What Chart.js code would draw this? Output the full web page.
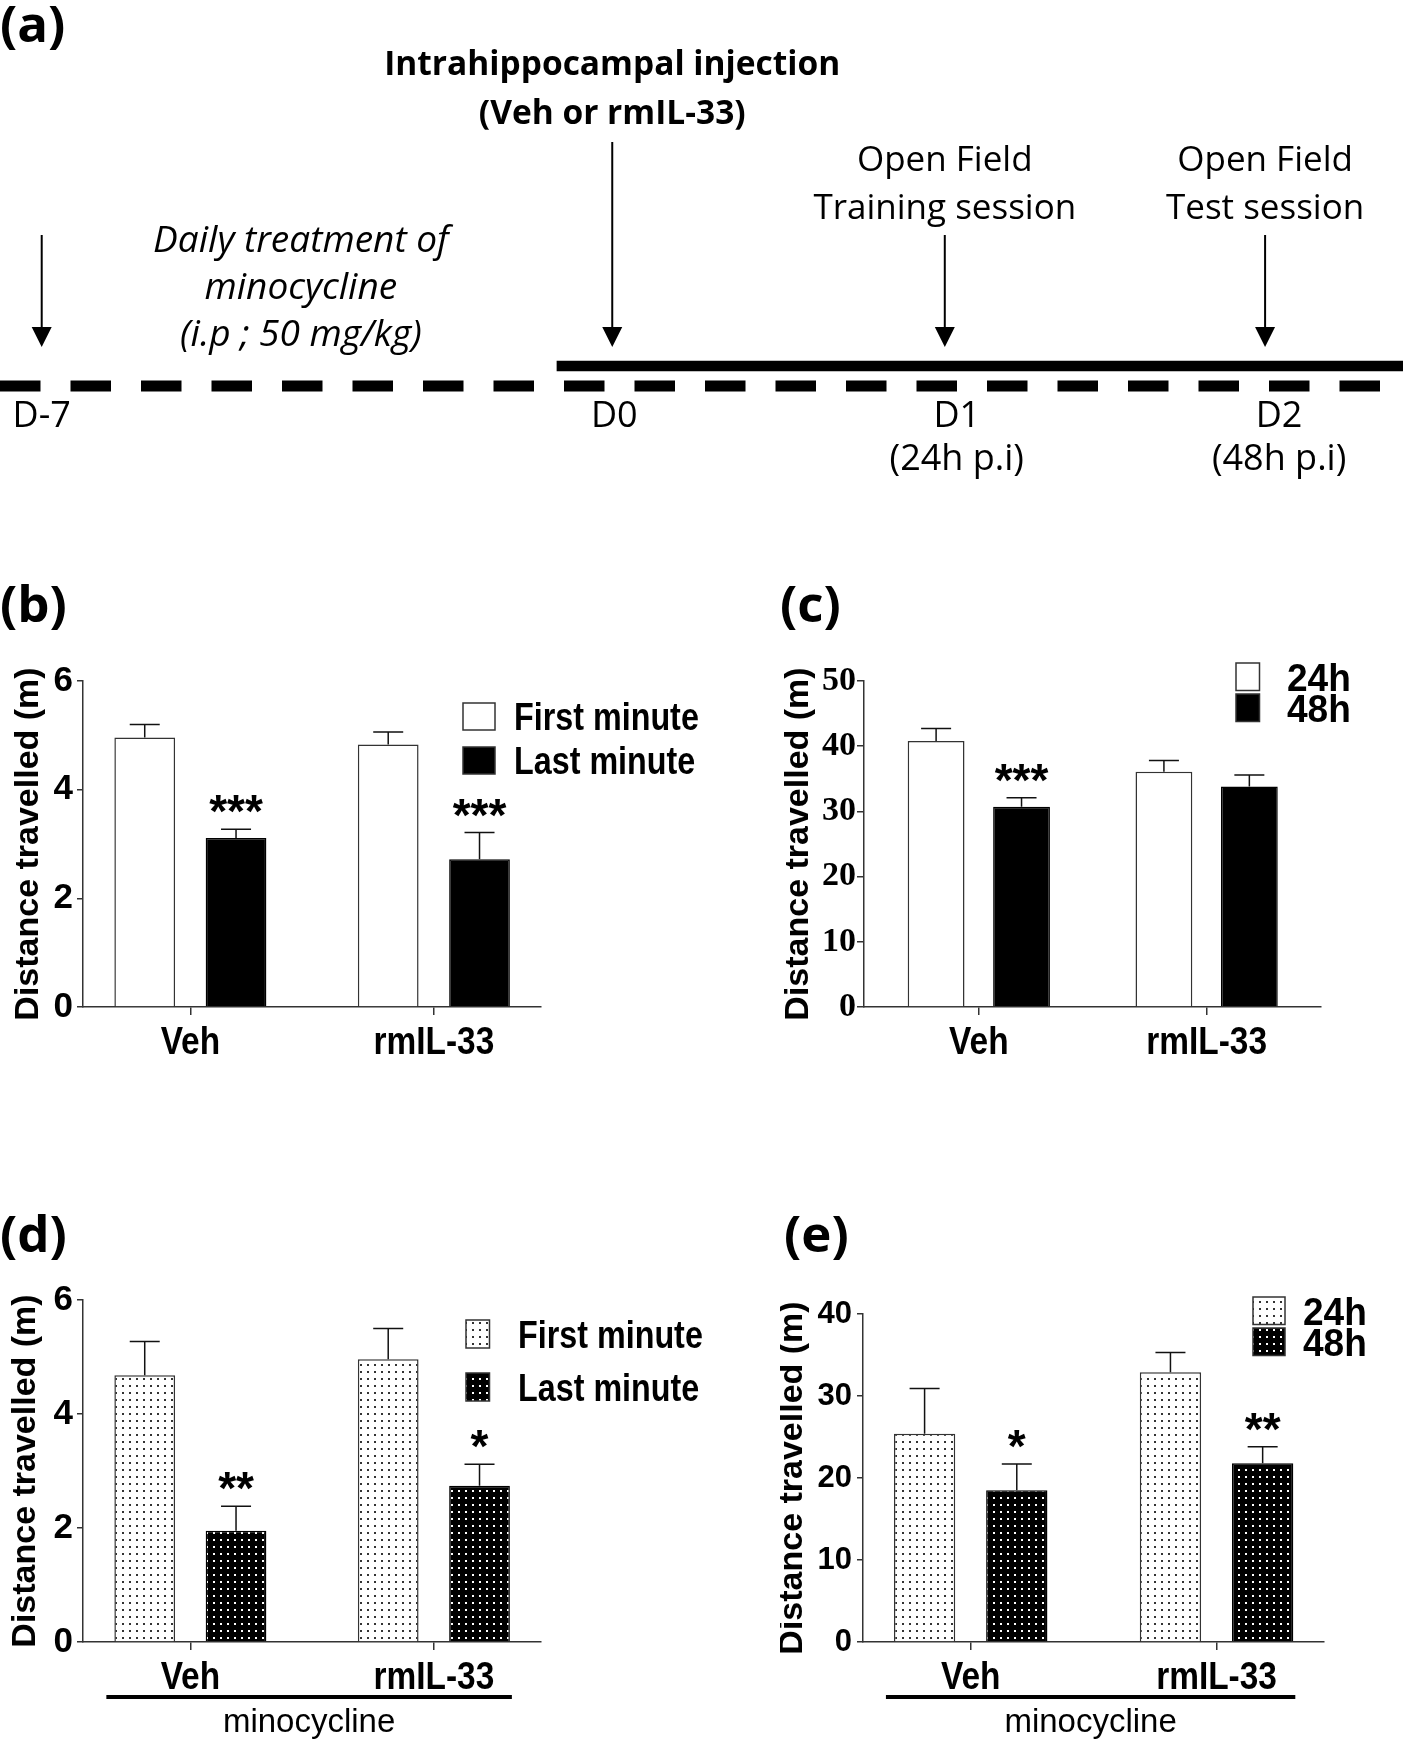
<!DOCTYPE html>
<html>
<head>
<meta charset="utf-8">
<title>Open field - minocycline / rmIL-33</title>
<script src="https://cdn.jsdelivr.net/npm/chart.js@4.4.1/dist/chart.umd.min.js"></script>
<style>
  body { margin: 0; background: #fff; }
  #figure { position: relative; width: 1403px; height: 1741px; overflow: hidden; }
  #figure canvas { position: absolute; }
</style>
</head>
<body>
<div id="figure">
  <canvas id="timeline" width="1403" height="570" style="left:0;top:0"></canvas>
  <canvas id="chartB" width="780" height="510" style="left:0;top:570px"></canvas>
  <canvas id="chartC" width="623" height="510" style="left:780px;top:570px"></canvas>
  <canvas id="chartD" width="780" height="541" style="left:0;top:1200px"></canvas>
  <canvas id="chartE" width="623" height="541" style="left:780px;top:1200px"></canvas>
</div>
<script>
// ====================== Data ======================
const GROUPS = ["Veh", "rmIL-33"];

// (a) protocol timeline (schematic, not to scale)
const TIMELINE_DAYS = ["D-7", "D0", "D1", "D2"];
const TIMELINE_POS = [0, 5.13, 8.12, 11];
const TIMELINE_SUB = ["", "", "(24h p.i)", "(48h p.i)"];
const TIMELINE_EVENTS = [
  [],
  ["Intrahippocampal injection", "(Veh or rmIL-33)"],
  ["Open Field", "Training session"],
  ["Open Field", "Test session"]
];
const TREATMENT_NOTE = ["Daily treatment of", "minocycline", "(i.p ; 50 mg/kg)"];
const TREATMENT_NOTE_POS = 2.33;
const TREATMENT_SPAN = [-0.375, 12.05];      // dashed: daily minocycline
const POST_INJECTION_SPAN = [4.63, 12.24];   // solid: after injection

// (b) first vs last minute
const B_SERIES = ["First minute", "Last minute"];
const B_FIRST = [4.96, 4.83];
const B_FIRST_SEM = [0.24, 0.23];
const B_LAST = [3.11, 2.72];
const B_LAST_SEM = [0.16, 0.49];
const B_LAST_STARS = ["***", "***"];
const B_Y_TICKS = [0, 2, 4, 6];

// (c) 24h vs 48h
const C_SERIES = ["24h", "48h"];
const C_24H = [40.8, 36.1];
const C_24H_SEM = [1.9, 1.7];
const C_48H = [30.7, 33.8];
const C_48H_SEM = [1.4, 1.8];
const C_48H_STARS = ["***", ""];
const C_Y_TICKS = [0, 10, 20, 30, 40, 50];

// (d) first vs last minute, minocycline
const D_SERIES = ["First minute", "Last minute"];
const D_FIRST = [4.68, 4.96];
const D_FIRST_SEM = [0.59, 0.54];
const D_LAST = [1.95, 2.74];
const D_LAST_SEM = [0.43, 0.38];
const D_LAST_STARS = ["**", "*"];
const D_Y_TICKS = [0, 2, 4, 6];

// (e) 24h vs 48h, minocycline
const E_SERIES = ["24h", "48h"];
const E_24H = [25.4, 32.9];
const E_24H_SEM = [5.5, 2.4];
const E_48H = [18.5, 21.8];
const E_48H_SEM = [3.2, 2.0];
const E_48H_STARS = ["*", "**"];
const E_Y_TICKS = [0, 10, 20, 30, 40];

// ====================== Styles ======================
const AXIS = "#333";
const SANS = "'Liberation Sans', Arial, sans-serif";
const SERIF = "'Liberation Serif', 'Times New Roman', serif";
const OPEN = "'Open Sans', sans-serif";

function dotPattern(canvasId, bg, dot) {
  const tile = document.createElement("canvas");
  tile.width = 7; tile.height = 7;
  const g = tile.getContext("2d");
  g.fillStyle = bg; g.fillRect(0, 0, 7, 7);
  g.fillStyle = dot; g.fillRect(3, 3, 2, 2);
  return document.getElementById(canvasId).getContext("2d").createPattern(tile, "repeat");
}

// condensed text, like the Arial Narrow used in the original graphs
function drawNarrow(ctx, text, x, y, font, sx, align) {
  ctx.save();
  ctx.font = font;
  ctx.textAlign = align;
  ctx.textBaseline = "alphabetic";
  ctx.translate(x, y);
  ctx.scale(sx, 1);
  ctx.fillText(text, 0, 0);
  ctx.restore();
}

// ====================== Plugins ======================
const panelLetter = {
  id: "panelLetter",
  afterDraw(chart, args, opts) {
    if (!opts || !opts.text) return;
    const ctx = chart.ctx;
    ctx.save();
    ctx.fillStyle = "#000";
    ctx.font = "bold 51px " + OPEN;
    ctx.textAlign = "left";
    ctx.textBaseline = "alphabetic";
    ctx.fillText(opts.text, opts.x, opts.y);
    ctx.restore();
  }
};

const groupLabels = {
  id: "groupLabels",
  afterDraw(chart) {
    const ctx = chart.ctx;
    const xs = chart.scales.x;
    ctx.save();
    ctx.fillStyle = "#000";
    xs.ticks.forEach(t => {
      drawNarrow(ctx, GROUPS[t.value], xs.getPixelForValue(t.value), xs.top + 47, "bold 38px " + SANS, 0.88, "center");
    });
    ctx.restore();
  }
};

const errorBars = {
  id: "errorBars",
  afterDatasetsDraw(chart) {
    const ctx = chart.ctx;
    const yScale = chart.scales.y;
    ctx.save();
    chart.data.datasets.forEach((ds, di) => {
      chart.getDatasetMeta(di).data.forEach((bar, i) => {
        const top = yScale.getPixelForValue(ds.data[i].y + ds.sem[i]);
        ctx.strokeStyle = "#111";
        ctx.lineWidth = 1.5;
        ctx.beginPath();
        ctx.moveTo(bar.x, bar.y);
        ctx.lineTo(bar.x, top);
        ctx.moveTo(bar.x - 15, top);
        ctx.lineTo(bar.x + 15, top);
        ctx.stroke();
        const star = ds.stars ? ds.stars[i] : "";
        if (star) {
          ctx.fillStyle = "#000";
          ctx.font = "bold 46px " + SANS;
          ctx.textAlign = "center";
          ctx.textBaseline = "alphabetic";
          ctx.fillText(star, bar.x, top - 2);
        }
      });
    });
    ctx.restore();
  }
};

const boxLegend = {
  id: "boxLegend",
  afterDraw(chart, args, opts) {
    if (!opts || opts.x === undefined) return;
    const ctx = chart.ctx;
    ctx.save();
    chart.data.datasets.forEach((ds, k) => {
      const top = opts.y[k];
      ctx.fillStyle = ds.backgroundColor;
      ctx.fillRect(opts.x, top, opts.w, opts.h);
      ctx.strokeStyle = AXIS;
      ctx.lineWidth = 1.5;
      ctx.strokeRect(opts.x, top, opts.w, opts.h);
      ctx.fillStyle = "#000";
      drawNarrow(ctx, ds.label, opts.textX, top + opts.h / 2 + opts.size * 0.36,
        "bold " + opts.size + "px " + SANS, opts.sx, "left");
    });
    ctx.restore();
  }
};

const bracketNote = {
  id: "bracketNote",
  afterDraw(chart, args, opts) {
    if (!opts || !opts.text) return;
    const ctx = chart.ctx;
    const n = chart.data.datasets.length;
    const first = chart.getDatasetMeta(0).data[0];
    const last = chart.getDatasetMeta(n - 1).data[GROUPS.length - 1];
    const left = first.x - first.width / 2 - 8;
    const right = last.x + last.width / 2 + 2;
    const base = chart.chartArea.bottom;
    ctx.save();
    ctx.fillStyle = "#000";
    ctx.fillRect(left, base + 53, right - left, 4);
    ctx.font = "33px " + SANS;
    ctx.textAlign = "center";
    ctx.textBaseline = "alphabetic";
    ctx.fillText(opts.text, (left + right) / 2, base + 90);
    ctx.restore();
  }
};

const timelineNotes = {
  id: "timelineNotes",
  afterDatasetsDraw(chart) {
    const { ctx, scales: { x, y } } = chart;
    const tipY = y.getPixelForValue(1) - 19;
    const arrowTop = [235, 142, 235, 235];
    const dayShift = [0, 2, 12, 14];
    ctx.save();
    ctx.fillStyle = "#000";
    ctx.strokeStyle = "#000";
    ctx.textAlign = "center";
    ctx.textBaseline = "alphabetic";
    TIMELINE_POS.forEach((pos, i) => {
      const px = x.getPixelForValue(pos);
      ctx.lineWidth = 2;
      ctx.beginPath();
      ctx.moveTo(px, arrowTop[i]);
      ctx.lineTo(px, tipY - 18);
      ctx.stroke();
      ctx.beginPath();
      ctx.moveTo(px - 10, tipY - 20);
      ctx.lineTo(px + 10, tipY - 20);
      ctx.lineTo(px, tipY);
      ctx.closePath();
      ctx.fill();

      const lines = TIMELINE_EVENTS[i];
      const bold = i === 1;
      const gap = bold ? 49 : 48;
      const last = arrowTop[i] - (bold ? 18 : 16);
      ctx.font = bold ? "bold 33.5px " + OPEN : "35px " + OPEN;
      lines.forEach((t, k) => {
        ctx.fillText(t, px, last - (lines.length - 1 - k) * gap);
      });

      ctx.font = "36px " + OPEN;
      ctx.fillText(TIMELINE_DAYS[i], px + dayShift[i], 427);
      if (TIMELINE_SUB[i]) ctx.fillText(TIMELINE_SUB[i], px + dayShift[i], 470);
    });

    const nx = x.getPixelForValue(TREATMENT_NOTE_POS);
    ctx.font = "italic 37px " + OPEN;
    TREATMENT_NOTE.forEach((t, k) => ctx.fillText(t, nx, 252 + k * 47));
    ctx.restore();
  }
};

// ====================== (a) Timeline ======================
new Chart(document.getElementById("timeline"), {
  type: "line",
  data: {
    datasets: [
      {
        data: TREATMENT_SPAN.map(v => ({ x: v, y: 0 })),
        borderColor: "#000", borderWidth: 11, borderDash: [40.5, 30],
        pointRadius: 0
      },
      {
        data: POST_INJECTION_SPAN.map(v => ({ x: v, y: 1 })),
        borderColor: "#000", borderWidth: 10.5,
        pointRadius: 0
      }
    ]
  },
  options: {
    responsive: false, animation: false, devicePixelRatio: 1,
    layout: { padding: 0 },
    plugins: {
      legend: { display: false }, tooltip: { enabled: false },
      panelLetter: { text: "(a)", x: 0, y: 42 }
    },
    scales: {
      x: { type: "linear", min: -0.375, max: 12.24, display: false },
      y: { type: "linear", min: -9.2, max: 19.3, display: false }
    }
  },
  plugins: [timelineNotes, panelLetter]
});

// ====================== Bar panels ======================
function barPanel(id, cfg) {
  const canvas = document.getElementById(id);
  return new Chart(canvas, {
    type: "bar",
    data: {
      datasets: cfg.series.map(s => ({
        label: s.label,
        data: s.values.map((v, i) => ({ x: i, y: v })),
        sem: s.sem,
        stars: s.stars,
        backgroundColor: s.fill,
        borderColor: s.border,
        borderWidth: 1.5,
        categoryPercentage: 0.75,
        barPercentage: 0.665
      }))
    },
    options: {
      responsive: false, animation: false, devicePixelRatio: 1,
      layout: {
        padding: {
          top: cfg.area.top, left: 0,
          right: canvas.width - cfg.area.right,
          bottom: canvas.height - cfg.area.bottom - 60
        }
      },
      plugins: {
        legend: { display: false }, tooltip: { enabled: false },
        panelLetter: cfg.letter,
        boxLegend: cfg.legend,
        bracketNote: cfg.bracket || {}
      },
      scales: {
        x: {
          type: "linear", offset: false, min: cfg.xMin, max: cfg.xMax,
          afterBuildTicks: s => { s.ticks = GROUPS.map((_, i) => ({ value: i })); },
          afterFit: s => { s.height = 60; },
          grid: { display: true, offset: false, drawOnChartArea: false, drawTicks: true, tickLength: 8, color: AXIS, lineWidth: 1.5 },
          border: { display: true, color: AXIS, width: 1.5 },
          ticks: { display: false }
        },
        y: {
          min: 0, max: cfg.yTicks[cfg.yTicks.length - 1],
          afterBuildTicks: s => { s.ticks = cfg.yTicks.map(v => ({ value: v })); },
          afterFit: s => { s.width = cfg.area.left; },
          title: {
            display: true, text: "Distance travelled (m)", color: "#000",
            font: { family: SANS, weight: "bold", size: 34 },
            padding: { top: cfg.titlePad, bottom: 0 }
          },
          grid: { drawOnChartArea: false, drawTicks: true, tickLength: cfg.yTickLen, color: AXIS, lineWidth: 1.5 },
          border: { display: true, color: AXIS, width: 1.5 },
          ticks: { font: cfg.tickFont, color: "#000", padding: cfg.yTickPad }
        }
      }
    },
    plugins: [errorBars, boxLegend, bracketNote, groupLabels, panelLetter]
  });
}

// (b)
barPanel("chartB", {
  series: [
    { label: B_SERIES[0], values: B_FIRST, sem: B_FIRST_SEM, stars: null, fill: "#fff", border: AXIS },
    { label: B_SERIES[1], values: B_LAST, sem: B_LAST_SEM, stars: B_LAST_STARS, fill: "#000", border: "#000" }
  ],
  area: { left: 83, right: 541, top: 111, bottom: 437 },
  xMin: -0.441, xMax: 1.44, yTicks: B_Y_TICKS,
  titlePad: 8, yTickLen: 6, yTickPad: 4,
  tickFont: { family: SANS, weight: "bold", size: 35 },
  letter: { text: "(b)", x: 0, y: 52 },
  legend: { x: 463, y: [133, 177], w: 32, h: 27, textX: 514, size: 38, sx: 0.85 }
});

// (c)
barPanel("chartC", {
  series: [
    { label: C_SERIES[0], values: C_24H, sem: C_24H_SEM, stars: null, fill: "#fff", border: AXIS },
    { label: C_SERIES[1], values: C_48H, sem: C_48H_SEM, stars: C_48H_STARS, fill: "#000", border: "#000" }
  ],
  area: { left: 84, right: 541, top: 111, bottom: 437 },
  xMin: -0.504, xMax: 1.502, yTicks: C_Y_TICKS,
  titlePad: -2, yTickLen: 7, yTickPad: 1,
  tickFont: { family: SERIF, weight: "bold", size: 34 },
  letter: { text: "(c)", x: 0, y: 52 },
  legend: { x: 456, y: [93, 124], w: 23.5, h: 27.5, textX: 507, size: 39, sx: 0.95 }
});

// (d)
barPanel("chartD", {
  series: [
    { label: D_SERIES[0], values: D_FIRST, sem: D_FIRST_SEM, stars: null, fill: dotPattern("chartD", "#fff", "#333"), border: AXIS },
    { label: D_SERIES[1], values: D_LAST, sem: D_LAST_SEM, stars: D_LAST_STARS, fill: dotPattern("chartD", "#000", "#fff"), border: "#000" }
  ],
  area: { left: 83, right: 541, top: 100, bottom: 442 },
  xMin: -0.441, xMax: 1.44, yTicks: D_Y_TICKS,
  titlePad: 5, yTickLen: 6, yTickPad: 4,
  tickFont: { family: SANS, weight: "bold", size: 35 },
  letter: { text: "(d)", x: 0, y: 52 },
  legend: { x: 466, y: [120, 173], w: 23.5, h: 28, textX: 518, size: 38, sx: 0.85 },
  bracket: { text: "minocycline" }
});

// (e)
barPanel("chartE", {
  series: [
    { label: E_SERIES[0], values: E_24H, sem: E_24H_SEM, stars: null, fill: dotPattern("chartE", "#fff", "#333"), border: AXIS },
    { label: E_SERIES[1], values: E_48H, sem: E_48H_SEM, stars: E_48H_STARS, fill: dotPattern("chartE", "#000", "#fff"), border: "#000" }
  ],
  area: { left: 83, right: 543.5, top: 114, bottom: 442 },
  xMin: -0.438, xMax: 1.435, yTicks: E_Y_TICKS,
  titlePad: -8, yTickLen: 6, yTickPad: 5,
  tickFont: { family: SANS, weight: "bold", size: 31 },
  letter: { text: "(e)", x: 4, y: 52 },
  legend: { x: 473, y: [97, 128], w: 32, h: 27.5, textX: 523, size: 39, sx: 0.95 },
  bracket: { text: "minocycline" }
});
</script>
</body>
</html>
